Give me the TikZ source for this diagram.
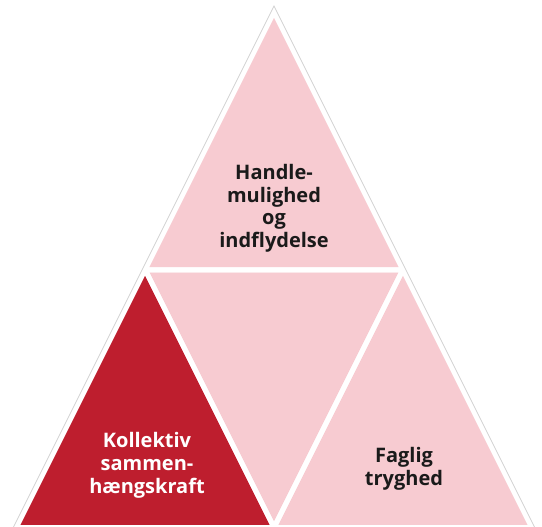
\documentclass[tikz,border=0pt]{standalone}
\usepackage{fontspec}
\setmainfont{Open Sans}
\definecolor{dkred}{HTML}{BE1E2E}
\definecolor{lpink}{HTML}{F7CBD1}
\definecolor{txt}{HTML}{1A1A1A}
\begin{document}
\begin{tikzpicture}[x=1pt,y=-1pt,
  lbl/.style={anchor=base,inner sep=0pt,font=\bfseries\fontsize{20}{22.5}\selectfont,text=txt},
  wlbl/.style={lbl,text=white},
  gap/.style={draw=white,line width=5pt,line join=round}]
\useasboundingbox (0,0) rectangle (542,527);
\coordinate (A) at (274,12);
\coordinate (B) at (16.25,527.5);
\coordinate (C) at (531.75,527.5);
\coordinate (AB) at (145.125,269.75);
\coordinate (AC) at (402.875,269.75);
\coordinate (BC) at (274,527.5);
% fills
\fill[lpink] (A) -- (AB) -- (AC) -- cycle;
\fill[lpink] (AB) -- (AC) -- (BC) -- cycle;
\fill[dkred] (AB) -- (B) -- (BC) -- cycle;
\fill[lpink] (AC) -- (BC) -- (C) -- cycle;
% white gaps
\draw[gap] (A) -- (AB) -- (AC) -- cycle;
\draw[gap] (AB) -- (AC) -- (BC) -- cycle;
\draw[gap] (AB) -- (B) -- (BC) -- cycle;
\draw[gap] (AC) -- (BC) -- (C) -- cycle;
% faint outer contour
\coordinate (Ao) at (274,6);
\coordinate (Bo) at (13,528);
\coordinate (Co) at (535,528);
\draw[gray!35,line width=0.7pt] (Bo) -- (Ao) -- (Co);
% labels
\node[lbl] (t1) at (274,180) {Handle-};
\node[lbl] (t2) at (274,202.5) {mulighed};
\node[lbl] (t3) at (274,225) {og};
\node[lbl] (t4) at (274,247.5) {indflydelse};
\node[wlbl] (l1) at (147,447) {Kollektiv};
\node[wlbl] (l2) at (147,470) {sammen-};
\node[wlbl] (l3) at (147,493) {hængskraft};
\node[lbl] (r1) at (404,462.5) {Faglig};
\node[lbl] (r2) at (404,485) {tryghed};
\end{tikzpicture}
\end{document}
